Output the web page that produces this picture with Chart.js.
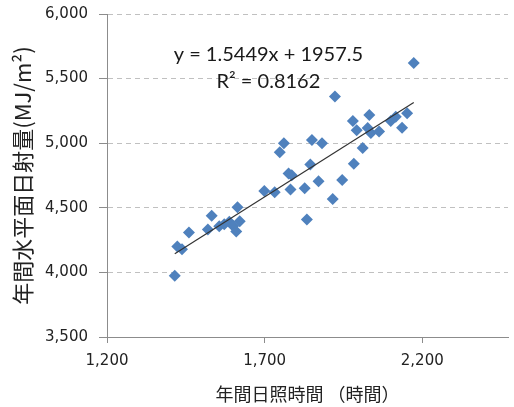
<!DOCTYPE html>
<html>
<head>
<meta charset="utf-8">
<script src="https://cdn.jsdelivr.net/npm/chart.js@4"></script>
<style>
  html, body { margin: 0; padding: 0; background: #fff; }
  #wrap { width: 514px; height: 407px; }
</style>
</head>
<body>
<div id="wrap"><canvas id="myChart"></canvas></div>
<script>
// 年間日照時間 (時間) と 年間水平面日射量 (MJ/m2)
const sunshineHours = [
  1415, 1423, 1438, 1460, 1520, 1532, 1556, 1572, 1588, 1600,
  1614, 1610, 1621, 1699, 1732, 1748, 1761, 1776, 1786, 1782,
  1827, 1834, 1845, 1850, 1882, 1871, 1916, 1923, 1946, 1983,
  2011, 1980, 1992, 2027, 2032, 2037, 2063, 2100, 2116, 2136,
  2152, 2173,
];
const irradiation = [
  3975, 4200, 4180, 4308, 4332, 4438, 4358, 4372, 4392, 4360,
  4505, 4316, 4396, 4630, 4620, 4930, 5000, 4766, 4752, 4642,
  4652, 4410, 4836, 5025, 5000, 4705, 4568, 5362, 4715, 4840,
  4962, 5172, 5100, 5118, 5218, 5078, 5090, 5172, 5205, 5120,
  5232, 5620,
];

// 線形近似
const slope = 1.5449;
const intercept = 1957.5;
const rSquared = 0.8162;

const xTicks = [1200, 1700, 2200];
const yTicks = [3500, 4000, 4500, 5000, 5500, 6000];

const points = sunshineHours.map((h, i) => ({ x: h, y: irradiation[i] }));
const xMin = Math.min(...sunshineHours);
const xMax = Math.max(...sunshineHours);
const trend = [
  { x: xMin, y: slope * xMin + intercept },
  { x: xMax, y: slope * xMax + intercept },
];

const fmt = (v) => v.toLocaleString("en-US");

// 近似式とR2の表示
const trendLabel = {
  id: "trendLabel",
  afterDatasetsDraw(chart) {
    const { ctx, scales } = chart;
    const cx = scales.x.getPixelForValue(1712);
    ctx.save();
    ctx.font = "20px Lato";
    ctx.fillStyle = "#1a1a1a";
    ctx.textAlign = "center";
    ctx.textBaseline = "middle";
    ctx.fillText(`y = ${slope}x + ${intercept}`, cx, scales.y.getPixelForValue(5690));
    ctx.fillText(`R² = ${rSquared}`, cx, scales.y.getPixelForValue(5475));
    ctx.restore();
  },
};

const cfg = {
  type: "scatter",
  data: {
    datasets: [
      {
        data: trend,
        showLine: true,
        borderColor: "#333",
        borderWidth: 1.2,
        pointRadius: 0,
        order: 0,
      },
      {
        data: points,
        pointStyle: "rectRot",
        pointRadius: 6,
        backgroundColor: "#4F81BD",
        borderColor: "#4F81BD",
        borderWidth: 0,
        order: 1,
      },
    ],
  },
  options: {
    responsive: true,
    maintainAspectRatio: false,
    animation: false,
    layout: { padding: { top: 14, left: 0, right: 0, bottom: 0 } },
    plugins: {
      legend: { display: false },
      tooltip: { enabled: false },
    },
    scales: {
      x: {
        type: "linear",
        min: 1200,
        max: 2472,
        afterBuildTicks: (scale) => {
          scale.ticks = xTicks.map((v) => ({ value: v }));
        },
        afterFit: (scale) => {
          scale.height = 70;
        },
        ticks: {
          callback: (v) => fmt(v),
          font: { family: "DejaVu Sans", size: 15 },
          color: "#222",
          padding: 9,
          maxRotation: 0,
        },
        grid: {
          drawOnChartArea: false,
          tickLength: 6,
          tickColor: "#8c8c8c",
        },
        border: { color: "#8c8c8c", width: 1 },
        title: {
          display: true,
          text: "年間日照時間 （時間）",
          font: { family: "Noto Sans CJK JP", size: 18 },
          color: "#222",
          padding: { top: 0, bottom: 2 },
        },
      },
      y: {
        min: 3500,
        max: 6000,
        afterBuildTicks: (scale) => {
          scale.ticks = yTicks.map((v) => ({ value: v }));
        },
        afterFit: (scale) => {
          scale.width = 107;
          // 目盛ラベルの余白で上端が下がらないようにする
          scale.paddingTop = 0;
          scale.paddingBottom = 0;
        },
        ticks: {
          callback: (v) => fmt(v),
          font: { family: "DejaVu Sans", size: 15 },
          color: "#222",
          padding: 11,
        },
        grid: {
          color: "#c0c0c0",
          tickLength: 8,
          tickColor: "#8c8c8c",
        },
        border: { color: "#8c8c8c", width: 1, dash: [5, 4] },
        title: {
          display: true,
          text: "年間水平面日射量(MJ/m²)",
          font: { family: "Noto Sans CJK JP", size: 22 },
          color: "#222",
          padding: { top: 9, bottom: 0 },
        },
      },
    },
  },
  plugins: [trendLabel],
};

new Chart(document.getElementById("myChart"), cfg);
</script>
</body>
</html>
